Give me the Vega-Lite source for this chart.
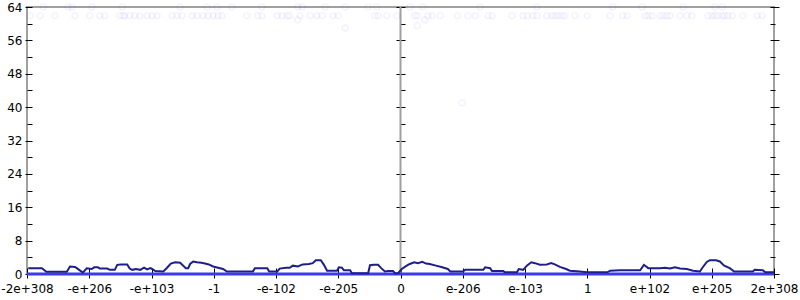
{
  "$schema": "https://vega.github.io/schema/vega-lite/v6.json",
  "width": 747,
  "height": 267,
  "autosize": {"type": "none"},
  "padding": {"left": 27, "top": 7, "right": 26, "bottom": 26},
  "background": "white",
  "config": {
    "view": {"stroke": "#a0a0a0", "strokeWidth": 2},
    "axis": {"labelFont": "DejaVu Sans", "labelFontSize": 12, "labelColor": "black", "tickColor": "black", "domain": false, "grid": false, "title": null, "labelOverlap": false, "labelBound": false, "labelFlush": false}
  },
  "datasets": {
    "hist": [
      {"x": -5.98, "y": 1.4}, {"x": -5.76, "y": 1.4}, {"x": -5.69, "y": 0.55}, {"x": -5.36, "y": 0.55}, {"x": -5.31, "y": 1.8}, {"x": -5.23, "y": 1.7}, {"x": -5.2, "y": 1.4}, {"x": -5.12, "y": 0.5}, {"x": -5.1, "y": 0.4}, {"x": -5.04, "y": 1.35}, {"x": -4.96, "y": 1.2}, {"x": -4.92, "y": 1.6}, {"x": -4.86, "y": 1.6}, {"x": -4.83, "y": 1.3}, {"x": -4.71, "y": 1.3}, {"x": -4.67, "y": 1.0}, {"x": -4.59, "y": 1.0}, {"x": -4.55, "y": 2.2}, {"x": -4.49, "y": 2.3}, {"x": -4.39, "y": 2.3}, {"x": -4.35, "y": 1.3}, {"x": -4.31, "y": 1.0}, {"x": -4.25, "y": 1.2}, {"x": -4.18, "y": 1.0}, {"x": -4.12, "y": 1.5}, {"x": -4.07, "y": 1.1}, {"x": -4.02, "y": 1.4}, {"x": -3.99, "y": 1.2}, {"x": -3.94, "y": 0.7}, {"x": -3.81, "y": 0.6}, {"x": -3.75, "y": 1.5}, {"x": -3.69, "y": 2.5}, {"x": -3.62, "y": 2.8}, {"x": -3.54, "y": 2.7}, {"x": -3.49, "y": 2.0}, {"x": -3.45, "y": 1.4}, {"x": -3.41, "y": 1.4}, {"x": -3.38, "y": 2.4}, {"x": -3.33, "y": 3.0}, {"x": -3.27, "y": 2.8}, {"x": -3.2, "y": 2.7}, {"x": -3.14, "y": 2.5}, {"x": -3.08, "y": 2.3}, {"x": -3.01, "y": 1.8}, {"x": -2.93, "y": 1.5}, {"x": -2.85, "y": 1.2}, {"x": -2.79, "y": 0.6}, {"x": -2.37, "y": 0.6}, {"x": -2.34, "y": 1.4}, {"x": -2.14, "y": 1.4}, {"x": -2.11, "y": 0.6}, {"x": -1.98, "y": 0.6}, {"x": -1.94, "y": 1.3}, {"x": -1.84, "y": 1.5}, {"x": -1.78, "y": 1.5}, {"x": -1.73, "y": 2.0}, {"x": -1.65, "y": 1.8}, {"x": -1.57, "y": 2.3}, {"x": -1.47, "y": 2.4}, {"x": -1.41, "y": 2.6}, {"x": -1.36, "y": 3.3}, {"x": -1.28, "y": 3.3}, {"x": -1.23, "y": 2.2}, {"x": -1.18, "y": 0.8}, {"x": -1.02, "y": 0.8}, {"x": -0.99, "y": 1.6}, {"x": -0.94, "y": 1.5}, {"x": -0.91, "y": 0.9}, {"x": -0.81, "y": 0.9}, {"x": -0.78, "y": 0.2}, {"x": -0.52, "y": 0.2}, {"x": -0.49, "y": 2.1}, {"x": -0.43, "y": 2.2}, {"x": -0.36, "y": 2.2}, {"x": -0.31, "y": 1.4}, {"x": -0.25, "y": 0.6}, {"x": -0.2, "y": 0.7}, {"x": -0.12, "y": 0.7}, {"x": -0.09, "y": 0.2}, {"x": -0.04, "y": 0.2}, {"x": 0.02, "y": 1.2}, {"x": 0.1, "y": 2.0}, {"x": 0.15, "y": 2.4}, {"x": 0.22, "y": 2.8}, {"x": 0.28, "y": 2.6}, {"x": 0.35, "y": 2.9}, {"x": 0.41, "y": 2.5}, {"x": 0.47, "y": 2.4}, {"x": 0.57, "y": 2.0}, {"x": 0.67, "y": 1.6}, {"x": 0.76, "y": 1.2}, {"x": 0.8, "y": 0.6}, {"x": 1.0, "y": 0.6}, {"x": 1.04, "y": 1.0}, {"x": 1.33, "y": 1.0}, {"x": 1.36, "y": 1.6}, {"x": 1.44, "y": 1.4}, {"x": 1.47, "y": 0.7}, {"x": 1.65, "y": 0.7}, {"x": 1.68, "y": 0.4}, {"x": 1.87, "y": 0.4}, {"x": 1.9, "y": 1.2}, {"x": 1.97, "y": 1.0}, {"x": 2.03, "y": 2.0}, {"x": 2.1, "y": 2.8}, {"x": 2.16, "y": 2.6}, {"x": 2.24, "y": 2.2}, {"x": 2.35, "y": 2.3}, {"x": 2.42, "y": 2.6}, {"x": 2.48, "y": 2.3}, {"x": 2.56, "y": 1.7}, {"x": 2.66, "y": 1.2}, {"x": 2.72, "y": 0.8}, {"x": 2.88, "y": 0.6}, {"x": 2.99, "y": 0.4}, {"x": 3.32, "y": 0.4}, {"x": 3.37, "y": 0.8}, {"x": 3.53, "y": 0.9}, {"x": 3.85, "y": 0.9}, {"x": 3.91, "y": 2.2}, {"x": 3.98, "y": 1.4}, {"x": 4.17, "y": 1.4}, {"x": 4.25, "y": 1.5}, {"x": 4.33, "y": 1.3}, {"x": 4.41, "y": 1.6}, {"x": 4.49, "y": 1.3}, {"x": 4.6, "y": 1.2}, {"x": 4.7, "y": 0.8}, {"x": 4.81, "y": 0.6}, {"x": 4.85, "y": 1.5}, {"x": 4.92, "y": 2.9}, {"x": 4.97, "y": 3.3}, {"x": 5.07, "y": 3.3}, {"x": 5.13, "y": 3.0}, {"x": 5.2, "y": 2.0}, {"x": 5.29, "y": 1.4}, {"x": 5.36, "y": 0.6}, {"x": 5.66, "y": 0.6}, {"x": 5.69, "y": 1.0}, {"x": 5.82, "y": 0.9}, {"x": 5.86, "y": 0.4}, {"x": 6.0, "y": 0.4}
    ],
    "base": [{"x": -6, "y": 0}, {"x": 6, "y": 0}],
    "pts": [
      {"x": -5.95, "y": 61.9}, {"x": -5.79, "y": 61.9}, {"x": -5.55, "y": 61.9}, {"x": -5.23, "y": 61.9}, {"x": -4.99, "y": 61.9}, {"x": -4.83, "y": 61.9}, {"x": -4.75, "y": 61.9}, {"x": -4.51, "y": 61.9}, {"x": -4.46, "y": 61.9}, {"x": -4.43, "y": 61.9}, {"x": -4.35, "y": 61.9}, {"x": -4.27, "y": 61.9}, {"x": -4.19, "y": 61.9}, {"x": -4.07, "y": 61.9}, {"x": -3.99, "y": 61.9}, {"x": -3.91, "y": 61.9}, {"x": -3.67, "y": 61.9}, {"x": -3.59, "y": 61.9}, {"x": -3.51, "y": 61.9}, {"x": -3.35, "y": 61.9}, {"x": -3.27, "y": 61.9}, {"x": -3.17, "y": 61.9}, {"x": -3.09, "y": 61.9}, {"x": -3.01, "y": 61.9}, {"x": -2.93, "y": 61.9}, {"x": -2.87, "y": 61.9}, {"x": -2.47, "y": 61.9}, {"x": -2.29, "y": 61.9}, {"x": -2.23, "y": 61.9}, {"x": -1.98, "y": 61.9}, {"x": -1.9, "y": 61.9}, {"x": -1.82, "y": 61.9}, {"x": -1.78, "y": 61.9}, {"x": -1.61, "y": 61.9}, {"x": -1.45, "y": 61.9}, {"x": -1.34, "y": 61.9}, {"x": -1.26, "y": 61.9}, {"x": -1.08, "y": 61.9}, {"x": -1.0, "y": 61.9}, {"x": -0.41, "y": 61.9}, {"x": -0.36, "y": 61.9}, {"x": -0.22, "y": 61.9}, {"x": -0.06, "y": 61.9}, {"x": 0.23, "y": 61.9}, {"x": 0.27, "y": 61.9}, {"x": 0.44, "y": 61.9}, {"x": 0.51, "y": 61.9}, {"x": 0.64, "y": 61.9}, {"x": 0.92, "y": 61.9}, {"x": 1.08, "y": 61.9}, {"x": 1.2, "y": 61.9}, {"x": 1.41, "y": 61.9}, {"x": 1.47, "y": 61.9}, {"x": 1.79, "y": 61.9}, {"x": 1.97, "y": 61.9}, {"x": 2.03, "y": 61.9}, {"x": 2.13, "y": 61.9}, {"x": 2.19, "y": 61.9}, {"x": 2.35, "y": 61.9}, {"x": 2.43, "y": 61.9}, {"x": 2.48, "y": 61.9}, {"x": 2.53, "y": 61.9}, {"x": 2.59, "y": 61.9}, {"x": 2.64, "y": 61.9}, {"x": 2.8, "y": 61.9}, {"x": 3.0, "y": 61.9}, {"x": 3.37, "y": 61.9}, {"x": 3.57, "y": 61.9}, {"x": 3.64, "y": 61.9}, {"x": 3.93, "y": 61.9}, {"x": 3.98, "y": 61.9}, {"x": 4.04, "y": 61.9}, {"x": 4.17, "y": 61.9}, {"x": 4.22, "y": 61.9}, {"x": 4.28, "y": 61.9}, {"x": 4.33, "y": 61.9}, {"x": 4.49, "y": 61.9}, {"x": 4.6, "y": 61.9}, {"x": 4.68, "y": 61.9}, {"x": 4.94, "y": 61.9}, {"x": 5.0, "y": 61.9}, {"x": 5.05, "y": 61.9}, {"x": 5.1, "y": 61.9}, {"x": 5.17, "y": 61.9}, {"x": 5.21, "y": 61.9}, {"x": 5.26, "y": 61.9}, {"x": 5.33, "y": 61.9}, {"x": 5.5, "y": 61.9}, {"x": 5.73, "y": 61.9}, {"x": 5.81, "y": 61.9},
      {"x": -5.74, "y": 64}, {"x": -5.34, "y": 64}, {"x": -5.28, "y": 64}, {"x": -4.96, "y": 64}, {"x": -4.47, "y": 64}, {"x": -3.54, "y": 64}, {"x": -3.11, "y": 64}, {"x": -2.95, "y": 64}, {"x": -2.71, "y": 64}, {"x": -2.23, "y": 64}, {"x": -1.65, "y": 64}, {"x": -1.58, "y": 64}, {"x": -1.21, "y": 64}, {"x": -0.89, "y": 64}, {"x": -0.52, "y": 64}, {"x": -0.38, "y": 64}, {"x": 0.15, "y": 64}, {"x": 0.36, "y": 64}, {"x": 1.28, "y": 64}, {"x": 2.19, "y": 64}, {"x": 3.41, "y": 64}, {"x": 3.88, "y": 64}, {"x": 4.54, "y": 64}, {"x": 5.05, "y": 64}, {"x": 5.17, "y": 64},
      {"x": -1.65, "y": 60.9}, {"x": -0.89, "y": 59}, {"x": 0.39, "y": 60.9}, {"x": 0.27, "y": 59.5}, {"x": 0.99, "y": 41}
    ]
  },
  "resolve": {"axis": {"x": "independent", "y": "independent"}},
  "layer": [
    {
      "data": {"values": [{"x": 0}]},
      "mark": {"type": "rule", "color": "#a0a0a0", "strokeWidth": 2},
      "encoding": {
        "x": {"field": "x", "type": "quantitative", "scale": {"domain": [-6, 6], "nice": false, "zero": false}, "axis": null}
      }
    },
    {
      "data": {"name": "pts"},
      "mark": {"type": "point", "filled": false, "size": 36, "strokeWidth": 1.2, "color": "#3030ff", "opacity": 0.07, "clip": false},
      "encoding": {
        "x": {"field": "x", "type": "quantitative", "scale": {"domain": [-6, 6], "nice": false, "zero": false}, "axis": null},
        "y": {"field": "y", "type": "quantitative", "scale": {"domain": [0, 64], "nice": false},
          "axis": {"orient": "left", "offset": -378, "values": [0, 4, 8, 12, 16, 20, 24, 28, 32, 36, 40, 44, 48, 52, 56, 60, 64], "labels": false,
            "tickSize": {"condition": {"test": "datum.value % 8 === 0", "value": 9}, "value": 5}}}
      }
    },
    {
      "data": {"name": "base"},
      "mark": {"type": "line", "color": "#3a3af0", "strokeWidth": 3},
      "encoding": {
        "x": {"field": "x", "type": "quantitative", "scale": {"domain": [-6, 6], "nice": false, "zero": false}, "axis": null},
        "y": {"field": "y", "type": "quantitative", "scale": {"domain": [0, 64], "nice": false},
          "axis": {"orient": "right", "offset": -4, "values": [0, 4, 8, 12, 16, 20, 24, 28, 32, 36, 40, 44, 48, 52, 56, 60, 64], "labels": false,
            "tickSize": {"condition": {"test": "datum.value % 8 === 0", "value": 9}, "value": 5}}}
      }
    },
    {
      "data": {"name": "hist"},
      "mark": {"type": "line", "color": "#1e1e8c", "strokeWidth": 2},
      "encoding": {
        "x": {"field": "x", "type": "quantitative", "scale": {"domain": [-6, 6], "nice": false, "zero": false},
          "axis": {"orient": "bottom", "offset": -6, "tickSize": 10, "labelPadding": 5, "values": [-6, -5, -4, -3, -2, -1, 0, 1, 2, 3, 4, 5, 6],
            "labelExpr": "datum.value == -6 ? '-2e+308' : datum.value == -5 ? '-e+206' : datum.value == -4 ? '-e+103' : datum.value == -3 ? '-1' : datum.value == -2 ? '-e-102' : datum.value == -1 ? '-e-205' : datum.value == 0 ? '0' : datum.value == 1 ? 'e-206' : datum.value == 2 ? 'e-103' : datum.value == 3 ? '1' : datum.value == 4 ? 'e+102' : datum.value == 5 ? 'e+205' : '2e+308'"}},
        "y": {"field": "y", "type": "quantitative", "scale": {"domain": [0, 64], "nice": false},
          "axis": {"orient": "left", "offset": -5, "values": [0, 4, 8, 12, 16, 20, 24, 28, 32, 36, 40, 44, 48, 52, 56, 60, 64], "labelPadding": 3,
            "labelExpr": "datum.value % 8 === 0 ? datum.label : ''",
            "tickSize": {"condition": {"test": "datum.value % 8 === 0", "value": 7}, "value": 5}}}
      }
    }
  ]
}
